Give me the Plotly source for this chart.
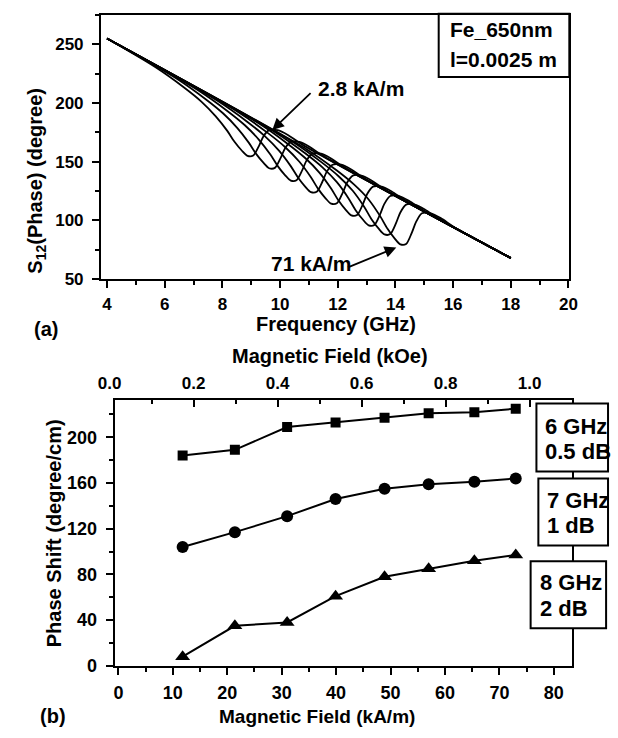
import plotly.graph_objects as go

# ---------------- Panel (a): S12 phase vs frequency, one curve per field ----------------
freq_c1 = [4.0, 5.67, 6.67, 7.27, 7.77, 8.17, 8.42, 8.67, 8.87, 9.07, 9.27, 9.42, 9.62, 9.92, 10.27, 10.77, 18.0]
phase_c1 = [255, 230.7, 213.3, 201.3, 188.7, 176.3, 167.0, 159.6, 155.0, 155.3, 163.6, 171.6, 176.9, 176.9, 172.8, 164.6, 68]
freq_c2 = [4.0, 6.42, 7.42, 8.02, 8.52, 8.92, 9.17, 9.42, 9.62, 9.82, 10.02, 10.17, 10.37, 10.67, 11.02, 11.52, 18.0]
phase_c2 = [255, 220.7, 203.3, 191.3, 178.7, 166.1, 156.7, 149.2, 144.5, 144.8, 153.3, 161.4, 166.9, 166.9, 162.8, 154.6, 68]
freq_c3 = [4.0, 7.17, 8.17, 8.77, 9.27, 9.67, 9.92, 10.17, 10.37, 10.57, 10.77, 10.92, 11.12, 11.42, 11.77, 12.27, 18.0]
phase_c3 = [255, 210.7, 193.3, 181.3, 168.7, 155.9, 146.3, 138.7, 134.0, 134.3, 142.9, 151.2, 156.9, 156.9, 152.8, 144.6, 68]
freq_c4 = [4.0, 7.87, 8.87, 9.47, 9.97, 10.37, 10.62, 10.87, 11.07, 11.27, 11.47, 11.62, 11.82, 12.12, 12.47, 12.97, 18.0]
phase_c4 = [255, 201.3, 183.9, 171.9, 159.3, 146.3, 136.6, 128.9, 124.1, 124.4, 133.2, 141.6, 147.5, 147.5, 143.4, 135.2, 68]
freq_c5 = [4.0, 8.57, 9.57, 10.17, 10.67, 11.07, 11.32, 11.57, 11.77, 11.97, 12.17, 12.32, 12.52, 12.82, 13.17, 13.67, 18.0]
phase_c5 = [255, 192.0, 174.6, 162.6, 150.0, 136.8, 126.9, 119.1, 114.3, 114.6, 123.5, 132.1, 138.2, 138.2, 134.1, 125.9, 68]
freq_c6 = [4.0, 9.27, 10.27, 10.87, 11.37, 11.77, 12.02, 12.27, 12.47, 12.67, 12.87, 13.02, 13.22, 13.52, 13.87, 14.37, 18.0]
phase_c6 = [255, 182.6, 165.2, 153.2, 140.6, 127.2, 117.2, 109.3, 104.4, 104.7, 113.8, 122.5, 128.8, 128.8, 124.7, 116.5, 68]
freq_c7 = [4.0, 9.87, 10.87, 11.47, 11.97, 12.37, 12.62, 12.87, 13.07, 13.27, 13.47, 13.62, 13.82, 14.12, 14.47, 14.97, 18.0]
phase_c7 = [255, 174.6, 157.2, 145.2, 132.6, 119.0, 108.8, 100.8, 95.9, 96.2, 105.4, 114.3, 120.8, 120.8, 116.7, 108.5, 68]
freq_c8 = [4.0, 10.42, 11.42, 12.02, 12.52, 12.92, 13.17, 13.42, 13.62, 13.82, 14.02, 14.17, 14.37, 14.67, 15.02, 15.52, 18.0]
phase_c8 = [255, 167.3, 149.9, 137.9, 125.3, 111.5, 101.1, 93.0, 88.1, 88.4, 97.7, 106.8, 113.5, 113.5, 109.4, 101.2, 68]
freq_c9 = [4.0, 10.97, 11.97, 12.57, 13.07, 13.47, 13.72, 13.97, 14.17, 14.37, 14.57, 14.72, 14.92, 15.22, 15.57, 16.07, 18.0]
phase_c9 = [255, 159.9, 142.5, 130.5, 117.9, 103.7, 93.1, 84.8, 79.7, 80.0, 89.7, 99.0, 106.1, 106.1, 102.0, 93.8, 68]

curves_a = [(freq_c1, phase_c1), (freq_c2, phase_c2), (freq_c3, phase_c3),
            (freq_c4, phase_c4), (freq_c5, phase_c5), (freq_c6, phase_c6),
            (freq_c7, phase_c7), (freq_c8, phase_c8), (freq_c9, phase_c9)]

label_low_field = "2.8 kA/m"
label_high_field = "71 kA/m"
sample_lines = ["Fe_650nm", "l=0.0025 m"]

# ---------------- Panel (b): phase shift vs magnetic field ----------------
field_kAm = [11.8, 21.4, 31.0, 39.9, 48.9, 57.0, 65.4, 73.0]
shift_6GHz = [184, 189, 209, 213, 217, 221, 222, 225]
shift_7GHz = [104, 117, 131, 146, 155, 159, 161, 164]
shift_8GHz = [8, 35, 38, 61, 78, 85, 92, 97]
box_labels = [("6 GHz", "0.5 dB"), ("7 GHz", "1 dB"), ("8 GHz", "2 dB")]

W, H = 618, 738
FONT = "Liberation Sans, Arial, Helvetica, sans-serif"


def px(x):
    return x / W


def py(y):
    return 1 - y / H


fig = go.Figure()

for fx, fy in curves_a:
    fig.add_trace(go.Scatter(x=fx, y=fy, mode="lines", xaxis="x", yaxis="y",
                             line=dict(color="black", width=1.8, shape="spline", smoothing=0.8),
                             showlegend=False, hoverinfo="skip"))

markers = ["square", "circle", "triangle-up"]
msizes = [10, 12, 13]
for vals, m, s in zip([shift_6GHz, shift_7GHz, shift_8GHz], markers, msizes):
    fig.add_trace(go.Scatter(x=field_kAm, y=vals, mode="lines+markers", xaxis="x3", yaxis="y3",
                             line=dict(color="black", width=2),
                             marker=dict(symbol=m, size=s, color="black"),
                             showlegend=False, hoverinfo="skip"))

# empty trace so the top (kOe) axis is drawn
fig.add_trace(go.Scatter(x=[], y=[], xaxis="x4", yaxis="y3", showlegend=False))

axis_common = dict(showline=True, linecolor="black", linewidth=2, showgrid=False,
                   zeroline=False, ticks="outside", tickcolor="black", tickwidth=2)

fig.update_layout(
    width=W, height=H, margin=dict(l=0, r=0, t=0, b=0),
    paper_bgcolor="white", plot_bgcolor="rgba(0,0,0,0)",
    font=dict(family=FONT, size=17, color="black", weight="bold"),
    showlegend=False,
    xaxis=dict(axis_common, domain=[px(93), px(577)], range=[3.79, 20.03], anchor="y",
               mirror=True, tick0=4, dtick=2, ticklen=7, tickfont=dict(size=17),
               ticklabelstandoff=1,
               minor=dict(dtick=1, ticks="outside", ticklen=4, tickwidth=2, tickcolor="black")),
    yaxis=dict(axis_common, domain=[py(283), py(15)], range=[50, 275.2], anchor="x",
               mirror=True, tick0=50, dtick=50, ticklen=7, tickfont=dict(size=17),
               ticklabelstandoff=5,
               minor=dict(dtick=25, ticks="outside", ticklen=4, tickwidth=2, tickcolor="black")),
    xaxis3=dict(axis_common, domain=[px(107), px(580)], range=[-0.71, 83.38], anchor="y3",
                mirror=True, tick0=0, dtick=10, ticklen=7, tickfont=dict(size=18),
                ticklabelstandoff=3,
                minor=dict(dtick=5, ticks="outside", ticklen=4, tickwidth=2, tickcolor="black")),
    yaxis3=dict(axis_common, domain=[py(675), py(405)], range=[0, 233.06], anchor="x3",
                mirror=True, tick0=0, dtick=40, ticklen=7, tickfont=dict(size=18),
                ticklabelstandoff=5,
                minor=dict(dtick=20, ticks="outside", ticklen=4, tickwidth=2, tickcolor="black")),
    xaxis4=dict(domain=[px(101), px(580)], range=[-0.002, 1.1014], anchor="y3", side="top",
                showline=False, showgrid=False, zeroline=False, ticks="inside", ticklen=7,
                tickwidth=2, tickcolor="black", tick0=0, dtick=0.2, tickformat=".1f",
                tickfont=dict(size=17), ticklabelstandoff=6,
                minor=dict(dtick=0.1, ticks="inside", ticklen=4, tickwidth=2, tickcolor="black")),
)

ann = []


def text_px(x, y, t, size=20, xanchor="center", angle=0):
    ann.append(dict(x=px(x), y=py(y), xref="paper", yref="paper", text=t, showarrow=False,
                    xanchor=xanchor, yanchor="middle", textangle=angle,
                    font=dict(size=size, family=FONT, color="black", weight="bold")))


# panel (a) texts
text_px(336, 328, "Frequency (GHz)", 20)
text_px(26, 183, "S<sub>12</sub>(Phase) (degree)", 20, angle=-90)
text_px(36, 334, "(a)", 20)
text_px(452, 30, sample_lines[0], 21, xanchor="left")
text_px(452, 60, sample_lines[1], 21, xanchor="left")

# panel (b) texts
text_px(330, 361, "Magnetic Field (kOe)", 20)
text_px(316, 726, "Magnetic Field (kA/m)", 19)
text_px(44, 541, "Phase Shift (degree/cm)", 20, angle=-90)
text_px(43, 726, "(b)", 20)

box_text_pos = [(550, 432, 458), (552, 507, 533), (545, 590, 617)]
for (l1, l2), (bx, y1, y2) in zip(box_labels, box_text_pos):
    text_px(bx, y1, l1, 22, xanchor="left")
    text_px(bx, y2, l2, 22, xanchor="left")

# field labels with arrows in panel (a)
ann.append(dict(x=11.24, y=212, xref="x", yref="y", text=label_low_field, showarrow=False,
                xanchor="left", yanchor="middle",
                font=dict(size=21, family=FONT, color="black", weight="bold")))
ann.append(dict(x=9.62, y=63.7, xref="x", yref="y", text=label_high_field, showarrow=False,
                xanchor="left", yanchor="middle",
                font=dict(size=21, family=FONT, color="black", weight="bold")))
ann.append(dict(x=9.73, y=177, ax=11.11, ay=209.7, xref="x", yref="y", axref="x", ayref="y",
                text="", showarrow=True, arrowhead=2, arrowsize=1.3, arrowwidth=1.8,
                arrowcolor="black"))
ann.append(dict(x=14.03, y=77.0, ax=12.30, ay=59.5, xref="x", yref="y", axref="x", ayref="y",
                text="", showarrow=True, arrowhead=2, arrowsize=1.3, arrowwidth=1.8,
                arrowcolor="black"))

fig.update_layout(annotations=ann)

shapes = [
    dict(type="rect", xref="paper", yref="paper", x0=px(442), x1=px(577), y0=py(78), y1=py(14),
         line=dict(color="black", width=2), fillcolor="white", layer="below"),
    dict(type="rect", xref="paper", yref="paper", x0=px(543), x1=px(617), y0=py(478), y1=py(409),
         line=dict(color="black", width=2), fillcolor="white", layer="above"),
    dict(type="rect", xref="paper", yref="paper", x0=px(545), x1=px(617), y0=py(553), y1=py(485),
         line=dict(color="black", width=2), fillcolor="white", layer="above"),
    dict(type="rect", xref="paper", yref="paper", x0=px(537), x1=px(615), y0=py(637), y1=py(569),
         line=dict(color="black", width=2), fillcolor="white", layer="above"),
]
fig.update_layout(shapes=shapes)

fig.write_html("out.html")
